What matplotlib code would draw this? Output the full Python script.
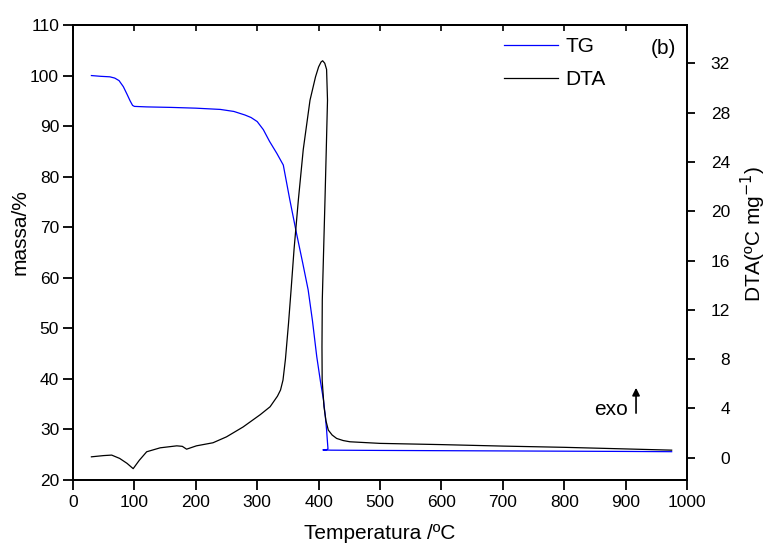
import matplotlib
matplotlib.use('Agg')
import matplotlib.pyplot as plt

plt.rcParams['font.family'] = ['Liberation Sans', 'DejaVu Sans']

# TG curve (mass %)
tg_t = [30, 45, 60, 68, 75, 82, 88, 93, 97, 100, 120, 160, 200, 240, 262, 280, 290,
        300, 310, 320, 332, 342.5, 353, 364, 374, 383, 390, 397, 403, 408, 411, 413,
        414.8, 415.3, 413.5, 407, 420, 500, 600, 700, 800, 900, 975]
tg_m = [100.0, 99.85, 99.75, 99.5, 99.0, 97.8, 96.3, 95.0, 94.1, 93.9, 93.8, 93.7,
        93.55, 93.3, 92.9, 92.2, 91.7, 90.9, 89.3, 87.0, 84.6, 82.3, 75.5, 68.8, 63.0,
        57.6, 51.5, 44.4, 39.5, 35.8, 32.5, 29.9, 26.9, 26.2, 26.0, 25.95, 25.9, 25.85,
        25.8, 25.75, 25.7, 25.65, 25.6]

# DTA curve (ºC/mg)
dta_t = [30, 50, 63, 76, 88, 98, 108, 120, 142, 169, 178, 185, 201, 228, 250, 277,
         305, 321, 333, 338, 342, 346, 351, 355, 360, 367, 375, 386, 395, 400, 404,
         406.6, 410, 413, 414.5, 412.5, 410.4, 408, 406, 405.5, 405.8, 408.8, 412,
         415.8, 422, 429.4, 440, 451, 500, 600, 700, 800, 900, 975]
dta_v = [0.08, 0.18, 0.22, -0.05, -0.45, -0.88, -0.2, 0.49, 0.81, 0.97, 0.93, 0.7,
         0.97, 1.22, 1.7, 2.5, 3.5, 4.14, 5.0, 5.5, 6.3, 8.0, 10.9, 13.5, 16.9, 20.9,
         25.0, 29.0, 30.9, 31.7, 32.1, 32.2, 32.0, 31.5, 29.0, 25.0, 20.9, 16.5, 12.8,
         9.0, 6.3, 4.14, 3.0, 2.25, 1.85, 1.57, 1.4, 1.3, 1.17, 1.07, 0.95, 0.85, 0.72,
         0.62]

fig = plt.figure(figsize=(7.74, 5.46), dpi=100)
ax = fig.add_axes([73/774, 66/546, 614/774, 455/546])
ax2 = ax.twinx()

l1, = ax.plot(tg_t, tg_m, color='#0000ff', lw=0.9, label='TG')
l2, = ax2.plot(dta_t, dta_v, color='black', lw=0.9, label='DTA')

ax.set_xlim(0, 1000)
ax.set_ylim(20, 110)
ax2.set_ylim(-1.8, 35.1)
ax.set_xticks(range(0, 1001, 100))
ax.set_yticks(range(20, 111, 10))
ax2.set_yticks(range(0, 33, 4))

for a in (ax, ax2):
    for s in a.spines.values():
        s.set_linewidth(1.3)

ax.tick_params(axis='x', direction='out', length=7, width=1.3,
               labelsize=12.5, pad=4, top=False)
ax.tick_params(axis='y', direction='out', length=7, width=1.3, labelsize=12.5, pad=3)
ax2.tick_params(axis='y', direction='out', length=6, width=1.3, labelsize=12.5, pad=25)
plt.setp(ax2.get_yticklabels(), ha='right')

# short inward ticks on the top spine
top = ax.secondary_xaxis('top')
top.set_xticks(range(0, 1001, 100))
top.tick_params(direction='in', length=4, width=1.2, labeltop=False)
top.spines['top'].set_linewidth(1.3)

ax.set_xlabel('Temperatura /ºC', fontsize=15, labelpad=10)
ax.set_ylabel('massa/%', fontsize=15)
ax.yaxis.set_label_coords(-0.07, 0.545)
ax2.set_ylabel('DTA(ºC mg$^{-1}$)', fontsize=15)
ax2.yaxis.set_label_coords(1.085, 0.54)

ax.legend(handles=[l1, l2], loc='upper left', frameon=False, fontsize=15,
          bbox_to_anchor=(504/774, 1 - 37/546), bbox_transform=fig.transFigure,
          borderpad=0, borderaxespad=0, handlelength=2.6, handletextpad=0.35,
          labelspacing=0.69)

fig.text(663/774, 1 - 48/546, '(b)', fontsize=15, ha='center', va='center')

ax2.text(904, 3.9, 'exo', fontsize=15, ha='right', va='center')
ax2.annotate('', xy=(917, 5.9), xytext=(917, 3.4),
             arrowprops=dict(arrowstyle='-|>', color='black', lw=1.2,
                             mutation_scale=11))

fig.savefig('out.png', dpi=100)
